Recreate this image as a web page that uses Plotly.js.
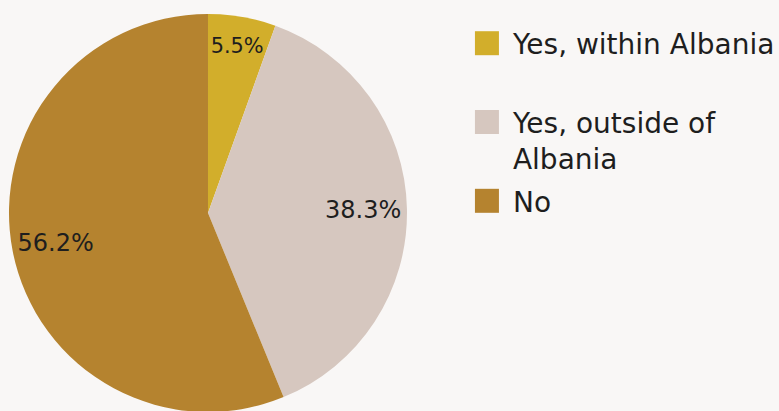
<!DOCTYPE html>
<html>
<head>
<meta charset="utf-8">
<script src="https://cdn.plot.ly/plotly-3.0.1.min.js"></script>
<style>
html,body{margin:0;padding:0;background:#F9F7F6;overflow:hidden;width:779px;height:411px;}
#chart{width:390px;height:206px;transform:scale(2);transform-origin:0 0;}
</style>
</head>
<body>
<div id="chart"></div>
<script>
const labels = ["Yes, within Albania<br>&nbsp;", "Yes, outside of<br>Albania", "No"];
const values = [5.5, 38.3, 56.2];
const colors = ["#D2AE2B", "#D6C7BF", "#B5832F"];

const common = {
  type: "pie",
  labels: labels,
  values: values,
  sort: false,
  direction: "clockwise",
  rotation: 0,
  domain: {x: [0, 0.5333], y: [0, 1]},
  hoverinfo: "none"
};

const slices = Object.assign({}, common, {
  marker: {colors: colors, line: {width: 0}},
  textinfo: "none",
  showlegend: true
});

// transparent overlay ring that only carries the percentage labels
const textRing = Object.assign({}, common, {
  hole: 0.56,
  marker: {colors: ["rgba(0,0,0,0)", "rgba(0,0,0,0)", "rgba(0,0,0,0)"], line: {width: 0}},
  textposition: "inside",
  insidetextorientation: "horizontal",
  texttemplate: "%{percent:.1%}",
  textfont: {family: "DejaVu Sans", size: 12, color: "#1e1e1e"},
  showlegend: false
});

Plotly.newPlot("chart", [slices, textRing], {
  width: 390,
  height: 206,
  margin: {l: 0, r: 0, t: 6.5, b: 0, autoexpand: false},
  paper_bgcolor: "#F9F7F6",
  plot_bgcolor: "#F9F7F6",
  showlegend: true,
  legend: {
    x: 0.573, y: 1.005, xanchor: "left", yanchor: "top",
    valign: "top",
    font: {family: "DejaVu Sans", size: 14, color: "#1e1e1e"},
    bgcolor: "rgba(0,0,0,0)"
  },
  font: {family: "DejaVu Sans"}
}, {staticPlot: true}).then(function () {
  document.querySelectorAll("#chart .legendtext").forEach(function (t) {
    t.setAttribute("transform", "translate(-7,0)");
  });
});
</script>
</body>
</html>
